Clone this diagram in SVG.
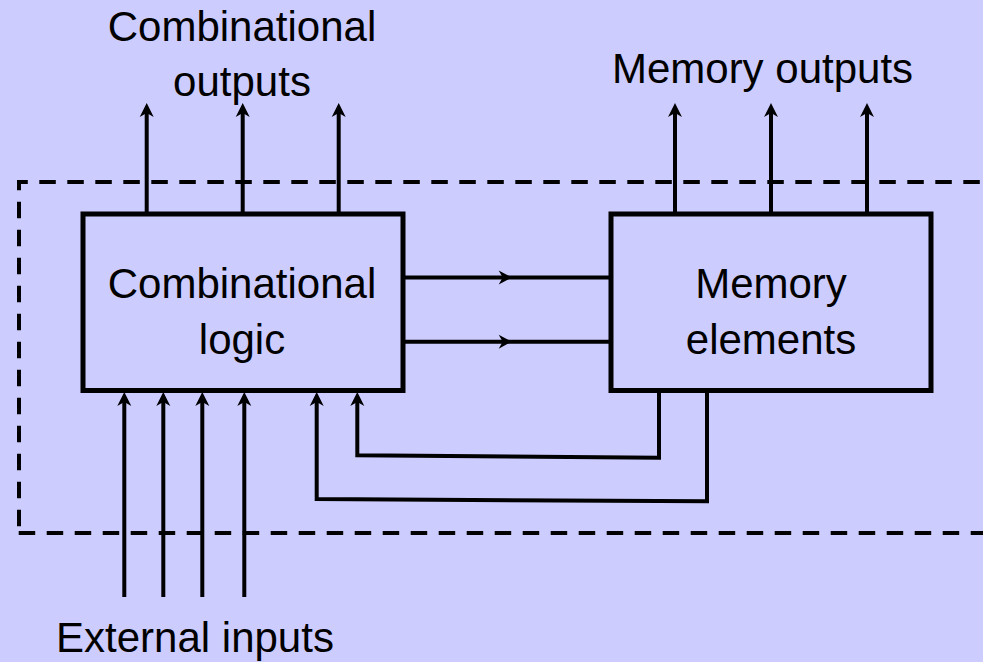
<svg xmlns="http://www.w3.org/2000/svg" width="983" height="662" viewBox="0 0 983 662">
  <style>
    .bg { fill: #CCCCFF; }
    .box { fill: none; stroke: #000; stroke-width: 5; }
    .arrow { fill: none; stroke: #000; stroke-width: 4; marker-end: url(#head); }
    .mid { fill: none; stroke: #000; stroke-width: 4; marker-mid: url(#headMid); }
    .dash { fill: none; stroke: #000; stroke-width: 4; stroke-dasharray: 16.5 11.5; }
    .label { font-family: "Liberation Sans", Arial, sans-serif; font-size: 42px; fill: #000; text-anchor: middle; }
  </style>
  <defs>
    <marker id="head" markerUnits="userSpaceOnUse" viewBox="-15 -8 16 16" markerWidth="16" markerHeight="16" refX="-6" refY="0" orient="auto" overflow="visible">
      <path d="M0,0 L-14,-7 L-10,0 L-14,7 Z" fill="#000"/>
    </marker>
    <marker id="headMid" markerUnits="userSpaceOnUse" viewBox="-15 -8 16 16" markerWidth="16" markerHeight="16" refX="0" refY="0" orient="auto" overflow="visible">
      <path d="M0,0 L-13,-7 L-9,0 L-13,7 Z" fill="#000"/>
    </marker>
  </defs>

  <rect class="bg" x="0" y="0" width="983" height="662"/>

  <g id="boundary">
    <line class="dash" x1="17" y1="182" x2="990" y2="182" stroke-dashoffset="5.7"/>
    <line class="dash" x1="19" y1="180" x2="19" y2="535" stroke-dashoffset="6.3"/>
    <line class="dash" x1="18.7" y1="533" x2="990" y2="533"/>
  </g>

  <g id="combinational-logic">
    <rect class="box" x="83" y="214" width="320" height="176.5"/>
    <text class="label" x="242" y="298">Combinational</text>
    <text class="label" x="242" y="354">logic</text>
  </g>

  <g id="memory-elements">
    <rect class="box" x="611" y="214" width="320" height="176.5"/>
    <text class="label" x="771" y="298">Memory</text>
    <text class="label" x="771" y="353.5">elements</text>
  </g>

  <g id="combinational-outputs">
    <text class="label" x="242" y="41">Combinational</text>
    <text class="label" x="242" y="96">outputs</text>
  </g>

  <g id="memory-outputs">
    <text class="label" x="762.5" y="83">Memory outputs</text>
  </g>

  <g id="external-inputs">
    <text class="label" x="195" y="652">External inputs</text>
  </g>

  <g id="connectors">
    <path class="arrow" d="M146.7,214 V109"/>
    <path class="arrow" d="M242.7,214 V109"/>
    <path class="arrow" d="M338.7,214 V109"/>
    <path class="arrow" d="M675,214 V109"/>
    <path class="arrow" d="M771,214 V109"/>
    <path class="arrow" d="M867,214 V109"/>
    <path class="mid" d="M403,277.5 L511.7,277.5 L611,277.5"/>
    <path class="mid" d="M403,341.7 L511.7,341.7 L611,341.7"/>
    <path class="arrow" d="M124.3,597 V398"/>
    <path class="arrow" d="M163.3,597 V398"/>
    <path class="arrow" d="M202.3,597 V398"/>
    <path class="arrow" d="M244.3,597 V398"/>
    <path class="arrow" d="M659,390.5 V457.7 L357.3,455.3 V398"/>
    <path class="arrow" d="M707,390.5 V501.3 L316.7,499 V398"/>
  </g>
</svg>
